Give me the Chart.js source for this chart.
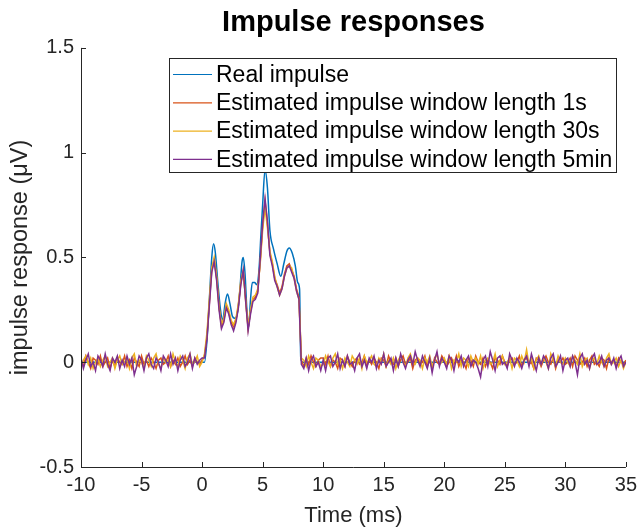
<!DOCTYPE html>
<html>
<head>
<meta charset="utf-8">
<script src="https://cdn.jsdelivr.net/npm/chart.js@4"></script>
<style>
  html, body { margin: 0; padding: 0; background: #fff; }
  #wrap { width: 643px; height: 528px; }
</style>
</head>
<body>
<div id="wrap"><canvas id="impulseChart"></canvas></div>
<script>
// Data
const seriesNames = [
  'Real impulse',
  'Estimated impulse window length 1s',
  'Estimated impulse window length 30s',
  'Estimated impulse window length 5min'
];

// real impulse (sparse points, zero outside the pulse)
const realTime = [-10, 0.2, 0.4, 0.6, 0.8, 0.95, 1.1, 1.3, 1.5, 1.7, 1.9, 2.1, 2.3, 2.5, 2.7, 2.9, 3.1, 3.3, 3.4, 3.55,
  3.7, 3.85, 4.0, 4.15, 4.35, 4.5, 4.7, 4.85, 5.0, 5.2, 5.4, 5.6, 5.9, 6.2, 6.5, 6.75, 7.0, 7.2, 7.45, 7.7,
  7.9, 8.05, 8.15, 8.3, 35];
const realValues = [0, 0, 0.1, 0.3, 0.5, 0.565, 0.52, 0.38, 0.26, 0.2, 0.28, 0.325, 0.28, 0.22, 0.21, 0.23, 0.33, 0.48, 0.5, 0.42,
  0.25, 0.17, 0.3, 0.38, 0.38, 0.37, 0.44, 0.6, 0.75, 0.92, 0.83, 0.63, 0.54, 0.47, 0.41, 0.47, 0.53, 0.545, 0.52, 0.46,
  0.38, 0.35, 0.02, 0, 0];

// estimated impulses, sampled every 0.2 ms from -10 ms to 35 ms (one row = 2 ms)
const sampleStart = -10;
const sampleStep = 0.2;

const est1s = [
  0.01,-0.02,0.03,0.00,-0.03,0.02,0.01,-0.01,0.03,-0.02,
  0.00,0.02,-0.03,0.01,-0.02,0.02,0.00,-0.01,0.03,-0.02,
  0.01,-0.03,0.02,0.00,-0.02,0.03,-0.01,0.01,-0.02,0.02,
  0.00,-0.03,0.01,0.02,-0.01,0.00,0.03,-0.02,0.01,-0.01,
  0.02,-0.02,0.00,0.03,-0.01,0.01,-0.02,0.02,0.00,-0.01,
  0.01,0.03,0.12,0.28,0.44,0.49,0.40,0.27,0.17,0.20,
  0.27,0.24,0.19,0.17,0.20,0.27,0.38,0.43,0.30,0.16,
  0.24,0.30,0.31,0.34,0.48,0.65,0.77,0.66,0.52,0.47,
  0.40,0.37,0.33,0.36,0.42,0.46,0.47,0.44,0.41,0.35,
  0.31,0.01,-0.02,0.02,-0.01,0.03,0.00,-0.02,0.01,0.02,
  0.02,-0.01,0.03,-0.02,0.01,0.00,-0.03,0.02,0.01,-0.02,
  0.03,0.00,-0.02,0.01,0.02,-0.01,0.00,0.03,-0.02,0.01,
  -0.01,0.02,0.00,-0.03,0.02,0.01,-0.02,0.03,0.00,-0.01,
  0.02,-0.02,0.01,0.03,-0.01,0.00,0.02,-0.03,0.01,0.02,
  -0.01,0.00,0.03,-0.02,0.01,-0.03,0.02,0.00,-0.01,0.03,
  0.01,-0.02,0.00,0.02,-0.01,0.03,-0.02,0.01,0.00,-0.03,
  0.02,0.01,-0.02,0.03,0.00,-0.01,0.02,-0.02,0.01,0.00,
  -0.03,0.02,0.01,-0.01,0.03,0.00,-0.02,0.01,0.02,-0.01,
  0.00,0.03,-0.02,0.01,0.02,-0.01,0.00,-0.03,0.02,0.01,
  -0.02,0.01,0.03,0.00,-0.01,0.02,-0.03,0.01,0.00,0.02,
  -0.01,0.00,0.02,-0.02,0.03,0.01,-0.01,0.00,0.02,-0.02,
  0.01,0.03,-0.01,0.00,-0.02,0.02,0.01,-0.03,0.02,0.00,
  0.01,-0.02,0.02,0.00,-0.01,0.01
];

const est30s = [
  -0.02,0.01,0.03,-0.01,0.02,-0.03,0.00,0.02,-0.02,0.01,
  0.03,-0.02,0.00,0.02,-0.03,0.01,0.03,-0.01,0.00,0.02,
  -0.03,0.02,0.04,-0.02,0.01,0.00,-0.03,0.03,0.01,-0.02,
  0.02,0.04,-0.01,-0.03,0.02,0.00,0.01,-0.02,0.04,0.00,
  -0.02,0.03,0.01,-0.03,0.02,0.04,-0.01,0.00,0.03,-0.02,
  0.00,0.04,0.14,0.30,0.45,0.50,0.41,0.26,0.18,0.21,
  0.28,0.25,0.20,0.18,0.21,0.28,0.39,0.44,0.29,0.17,
  0.25,0.31,0.32,0.35,0.47,0.63,0.74,0.64,0.53,0.48,
  0.41,0.36,0.32,0.35,0.41,0.45,0.46,0.45,0.40,0.34,
  0.30,0.02,0.01,-0.02,0.03,0.00,-0.03,0.02,0.01,-0.02,
  -0.01,0.03,0.00,-0.02,0.02,0.04,-0.01,0.01,-0.03,0.02,
  0.00,-0.02,0.03,0.01,-0.01,0.02,-0.03,0.03,0.00,0.01,
  0.03,-0.01,-0.02,0.02,0.00,0.04,-0.02,0.01,-0.01,0.02,
  -0.03,0.01,0.03,0.00,-0.02,0.02,0.04,0.00,-0.01,0.02,
  0.01,-0.03,0.02,0.00,0.03,-0.02,0.01,0.04,-0.01,0.00,
  0.02,-0.01,0.03,-0.03,0.01,0.00,0.04,-0.02,0.02,0.01,
  -0.02,0.03,0.00,0.02,-0.01,0.03,-0.03,0.01,0.02,-0.01,
  0.00,0.04,-0.02,0.01,0.03,-0.01,0.00,0.02,-0.03,0.02,
  0.01,-0.02,0.03,0.00,0.06,-0.01,0.02,-0.03,0.01,0.03,
  -0.01,0.02,0.00,-0.03,0.04,0.01,-0.02,0.03,0.00,-0.01,
  0.02,0.00,-0.02,0.03,0.01,-0.01,0.04,-0.02,0.01,0.02,
  -0.03,0.01,0.02,-0.01,0.03,0.00,-0.02,0.02,0.04,-0.01,
  0.00,0.02,-0.02,0.01,-0.03,0.00
];

const est5min = [
  0.02,-0.03,0.01,0.04,-0.02,0.00,-0.04,0.03,0.01,-0.02,
  0.04,-0.01,-0.04,0.02,0.00,0.03,-0.03,0.01,-0.02,0.03,
  -0.01,0.02,-0.06,-0.02,0.03,0.01,-0.04,0.02,0.04,-0.01,
  -0.03,0.02,0.00,-0.04,0.03,0.01,-0.02,0.04,-0.01,0.02,
  -0.04,0.01,0.03,-0.02,0.00,0.04,-0.03,0.02,-0.01,0.01,
  0.02,0.02,0.11,0.27,0.43,0.48,0.39,0.25,0.16,0.19,
  0.26,0.23,0.18,0.15,0.19,0.26,0.37,0.44,0.29,0.15,
  0.23,0.29,0.30,0.33,0.49,0.66,0.78,0.67,0.51,0.46,
  0.39,0.36,0.32,0.35,0.41,0.45,0.46,0.43,0.40,0.34,
  0.30,-0.01,-0.03,0.02,-0.04,0.01,0.03,-0.02,0.00,-0.04,
  0.01,-0.04,0.02,0.03,-0.02,0.00,0.04,-0.03,0.01,-0.02,
  0.03,-0.01,0.00,-0.04,0.02,0.04,-0.02,0.01,-0.03,0.02,
  0.00,0.03,-0.03,0.01,-0.01,0.04,-0.02,0.00,0.02,-0.04,
  0.02,-0.02,0.04,0.00,-0.03,0.01,0.03,-0.01,0.05,0.01,
  -0.02,0.03,0.00,-0.03,0.02,-0.05,0.01,0.05,-0.02,0.02,
  0.00,-0.03,0.03,0.01,-0.04,0.02,0.00,0.03,-0.02,0.01,
  0.03,-0.02,0.01,0.00,-0.03,-0.07,0.01,0.03,-0.02,0.05,
  0.01,-0.04,0.02,0.03,-0.01,0.00,-0.03,0.04,0.01,-0.02,
  0.02,0.00,-0.03,0.01,0.03,-0.02,0.04,0.00,-0.04,0.02,
  -0.01,0.03,0.01,-0.03,0.02,0.04,-0.02,0.00,0.03,-0.04,
  0.01,0.02,-0.02,0.03,0.00,-0.06,0.02,0.04,-0.01,0.01,
  -0.03,0.02,0.04,-0.01,0.00,0.03,-0.02,0.01,0.02,-0.01,
  0.02,-0.03,0.01,0.03,-0.02,0.00
];

const xTicks = [-10, -5, 0, 5, 10, 15, 20, 25, 30, 35];
const yTicks = [-0.5, 0, 0.5, 1, 1.5];

// MATLAB default line colours
const colors = ['#0072BD', '#D95319', '#EDB120', '#7E2F8E'];
const axisColor = '#262626';
const fontFamily = '"Liberation Sans", Arial, Helvetica, sans-serif';

function toPoints(times, values) {
  return values.map((v, i) => ({ x: times[i], y: v }));
}
function sampled(values) {
  return values.map((v, i) => ({ x: +(sampleStart + i * sampleStep).toFixed(2), y: v }));
}

// axes drawn MATLAB style: left + bottom line, ticks pointing inward, then the boxed legend
const matlabAxes = {
  id: 'matlabAxes',
  afterDatasetsDraw(chart) {
    const { ctx, chartArea: a, scales } = chart;
    const tick = 5;
    ctx.save();
    ctx.strokeStyle = axisColor;
    ctx.lineWidth = 1;
    ctx.beginPath();
    ctx.moveTo(a.left + 0.5, a.top);
    ctx.lineTo(a.left + 0.5, a.bottom + 0.5);
    ctx.lineTo(a.right, a.bottom + 0.5);
    xTicks.forEach(t => {
      const px = Math.round(scales.x.getPixelForValue(t)) + 0.5;
      ctx.moveTo(px, a.bottom);
      ctx.lineTo(px, a.bottom - tick);
    });
    yTicks.forEach(t => {
      const py = Math.round(scales.y.getPixelForValue(t)) + 0.5;
      ctx.moveTo(a.left, py);
      ctx.lineTo(a.left + tick, py);
    });
    ctx.stroke();

    // legend box
    const box = { x: 169.5, y: 58.5, w: 447, h: 114 };
    ctx.fillStyle = '#fff';
    ctx.fillRect(box.x, box.y, box.w, box.h);
    ctx.strokeStyle = axisColor;
    ctx.strokeRect(box.x, box.y, box.w, box.h);
    ctx.font = '23px ' + fontFamily;
    ctx.textBaseline = 'middle';
    ctx.textAlign = 'left';
    chart.data.datasets.forEach((ds, i) => {
      const y = 74.5 + i * 28.3;
      ctx.strokeStyle = ds.borderColor;
      ctx.lineWidth = 1.2;
      ctx.beginPath();
      ctx.moveTo(173, y);
      ctx.lineTo(212, y);
      ctx.stroke();
      ctx.fillStyle = '#000';
      ctx.fillText(ds.label, 216, y + 1);
    });
    ctx.restore();
  }
};

const ctx = document.getElementById('impulseChart').getContext('2d');
new Chart(ctx, {
  type: 'line',
  data: {
    datasets: [
      { label: seriesNames[0], data: toPoints(realTime, realValues), borderColor: colors[0], order: 4,
        cubicInterpolationMode: 'monotone' },
      { label: seriesNames[1], data: sampled(est1s), borderColor: colors[1], order: 3 },
      { label: seriesNames[2], data: sampled(est30s), borderColor: colors[2], order: 2 },
      { label: seriesNames[3], data: sampled(est5min), borderColor: colors[3], order: 1 }
    ]
  },
  options: {
    responsive: true,
    maintainAspectRatio: false,
    animation: false,
    layout: { padding: { left: 0, right: 15, top: 0, bottom: 0 } },
    elements: {
      point: { radius: 0 },
      line: { borderWidth: 1.5, tension: 0, fill: false }
    },
    plugins: {
      legend: { display: false },
      tooltip: { enabled: false },
      title: {
        display: true,
        text: 'Impulse responses',
        fullSize: false,
        color: '#000',
        font: { family: fontFamily, size: 29, weight: 'bold', lineHeight: 1.1 },
        padding: { top: 7, bottom: 9 }
      }
    },
    scales: {
      x: {
        type: 'linear',
        min: -10,
        max: 35,
        afterFit: (scale) => { scale.height = 61; },
        afterBuildTicks: (scale) => { scale.ticks = xTicks.map(v => ({ value: v })); },
        grid: { display: false, drawTicks: false },
        border: { display: false },
        ticks: { color: axisColor, padding: 6, maxRotation: 0, autoSkip: false,
          font: { family: fontFamily, size: 20 }, callback: (v) => String(v) },
        title: { display: true, text: 'Time (ms)', color: axisColor,
          font: { family: fontFamily, size: 22, lineHeight: 1.1 }, padding: 0 }
      },
      y: {
        min: -0.5,
        max: 1.5,
        afterFit: (scale) => { scale.width = 81; },
        afterBuildTicks: (scale) => { scale.ticks = yTicks.map(v => ({ value: v })); },
        grid: { display: false, drawTicks: false },
        border: { display: false },
        ticks: { color: axisColor, padding: 7, font: { family: fontFamily, size: 20 },
          callback: (v) => String(v) },
        title: { display: true, text: 'impulse response (μV)', color: axisColor,
          font: { family: fontFamily, size: 23.5, lineHeight: 1.1 }, padding: { top: 8, bottom: 0 } }
      }
    }
  },
  plugins: [matlabAxes]
});
</script>
</body>
</html>
